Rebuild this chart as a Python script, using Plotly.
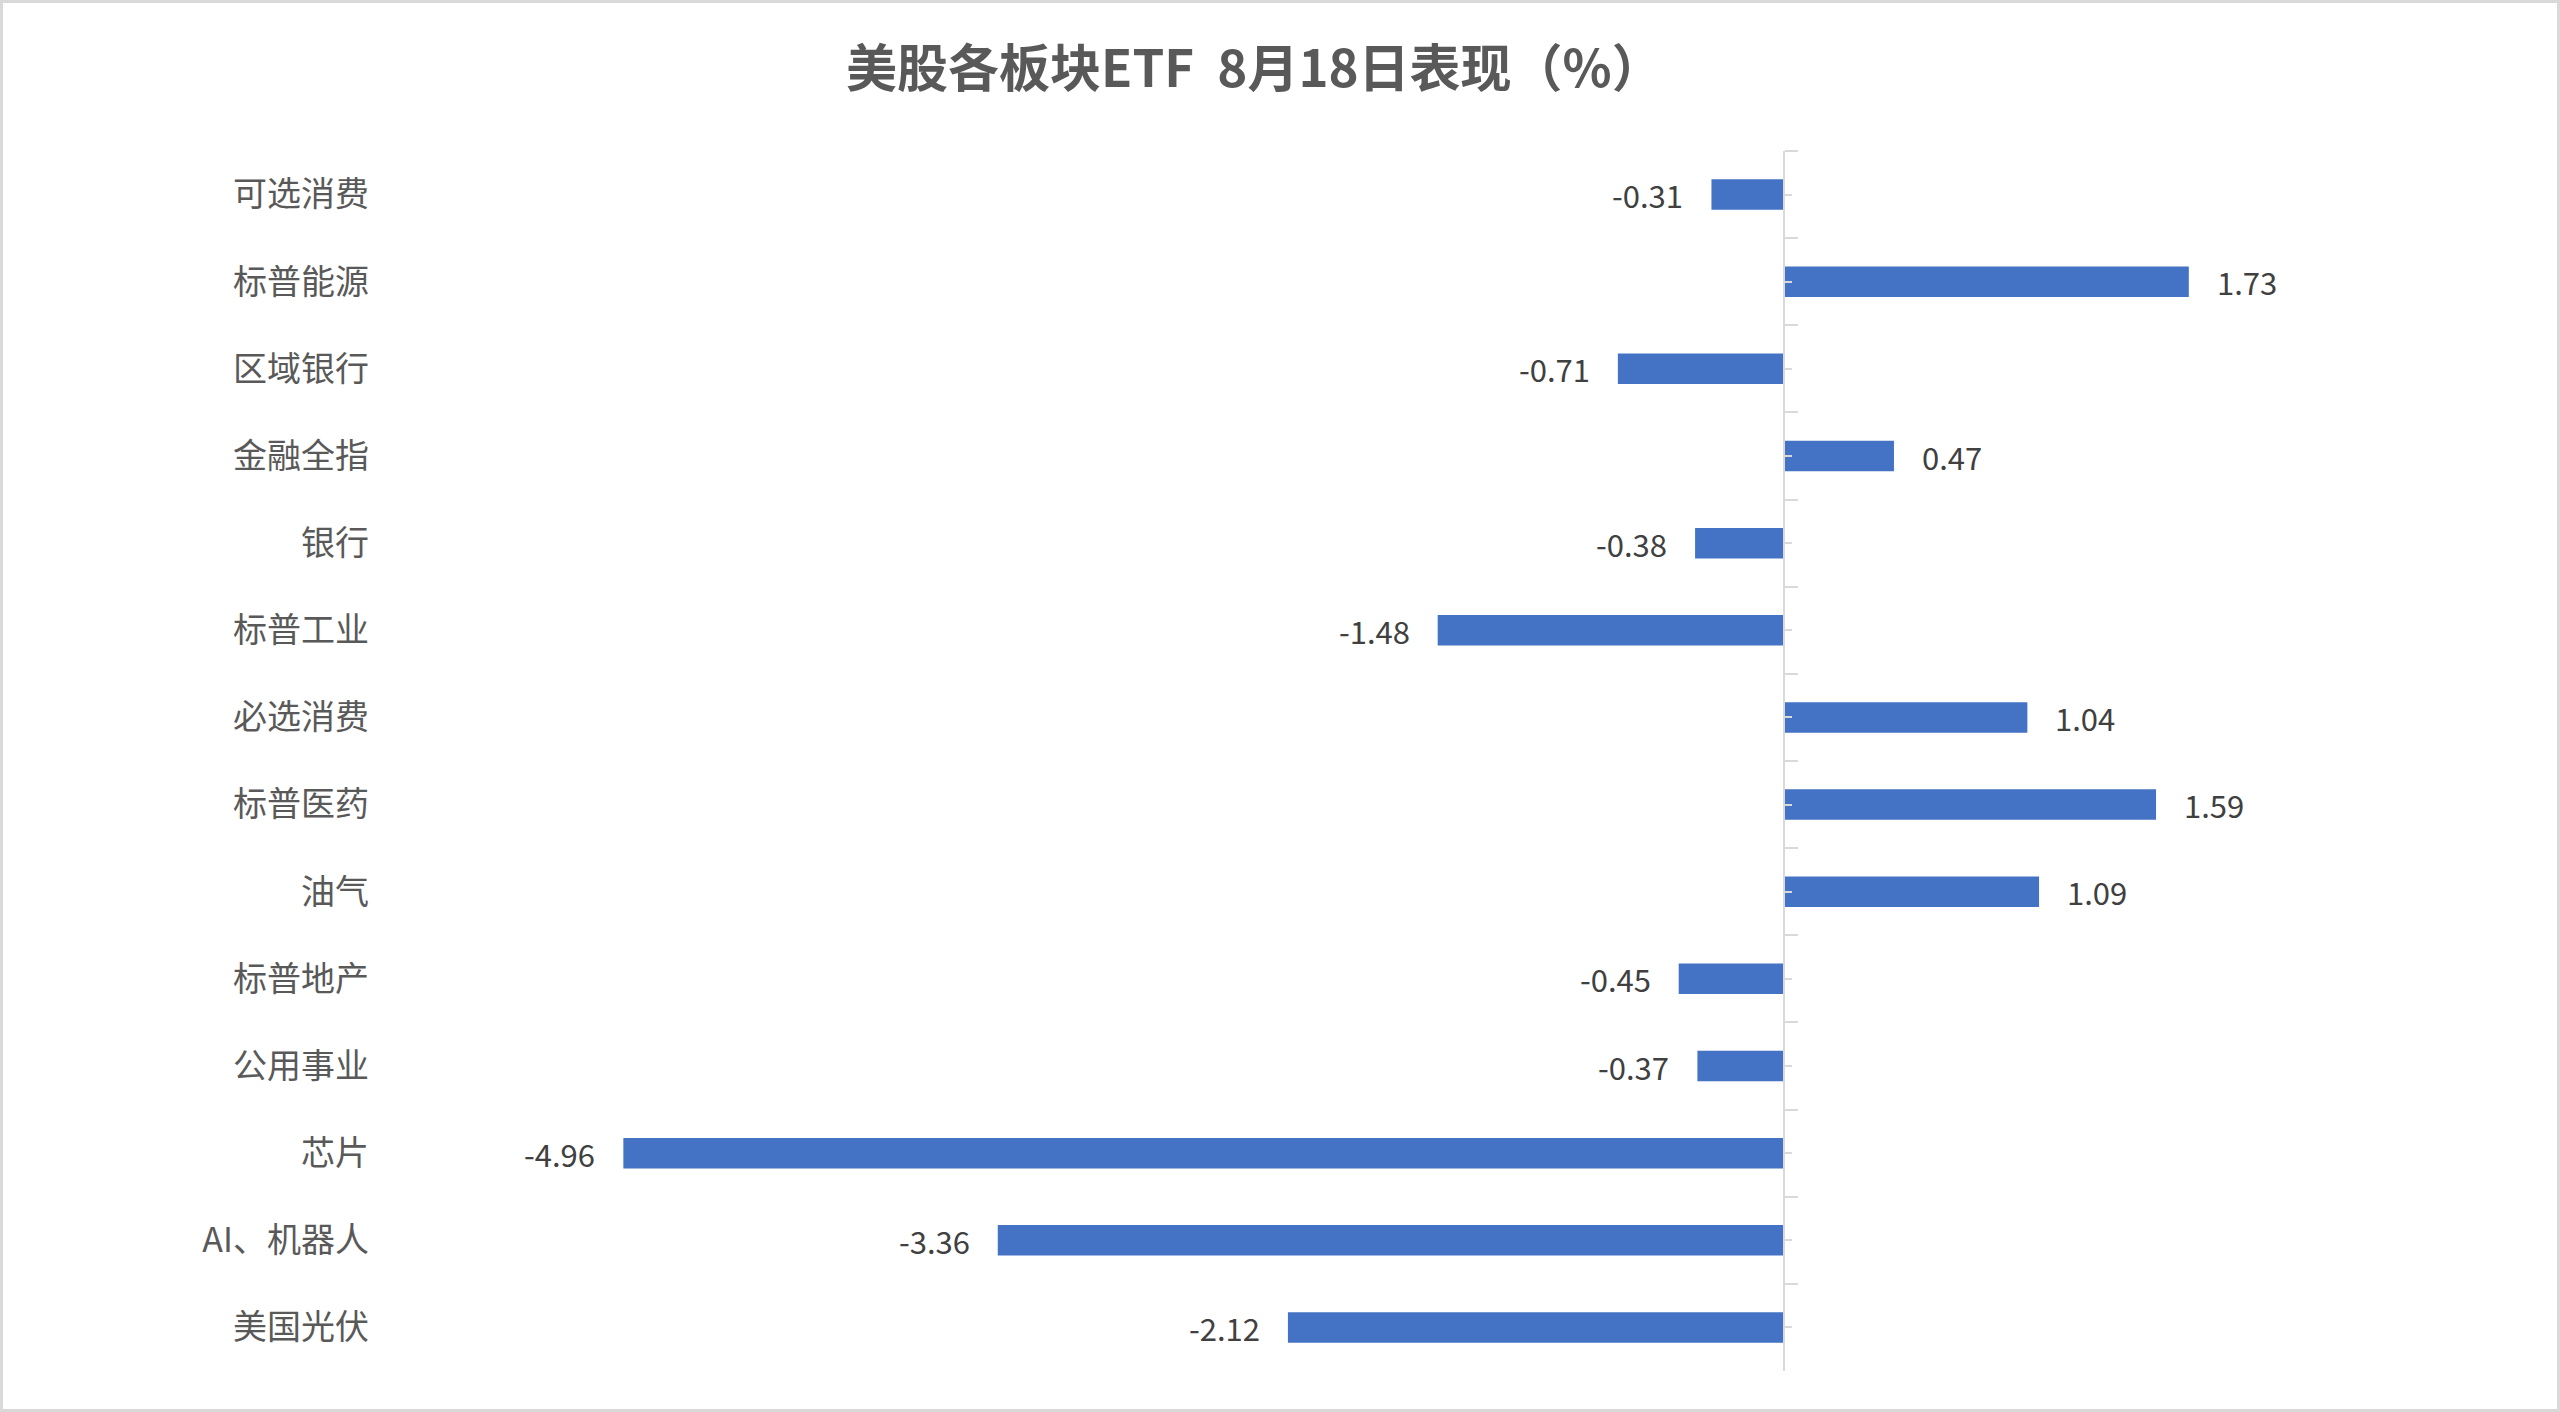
import plotly.graph_objects as go

# 美股各板块ETF 8月18日涨跌幅（%）
sectors = [
    "可选消费", "标普能源", "区域银行", "金融全指", "银行", "标普工业", "必选消费",
    "标普医药", "油气", "标普地产", "公用事业", "芯片", "AI、机器人", "美国光伏",
]
changes = [-0.31, 1.73, -0.71, 0.47, -0.38, -1.48, 1.04, 1.59, 1.09, -0.45, -0.37, -4.96, -3.36, -2.12]

W, H = 2560, 1412
M_L, M_R, M_T, M_B = 380, 191, 151, 41
X_RANGE = [-6, 2.5]
BAR_COLOR = "#4472C4"
AXIS_COLOR = "#D9D9D9"
FONT = "Noto Sans CJK SC, Noto Sans, sans-serif"

n = len(sectors)
y_range = [n - 0.5, -0.5]
zero_pos = (0 - X_RANGE[0]) / (X_RANGE[1] - X_RANGE[0])

fig = go.Figure()
fig.add_trace(go.Bar(
    x=changes, y=sectors, orientation="h",
    marker=dict(color=BAR_COLOR, line=dict(width=0)),
    width=0.35, hoverinfo="x+y",
))
# invisible copies so the overlay axes (category ticks at zero) know the categories
for ax in ("y2", "y3"):
    fig.add_trace(go.Scatter(
        x=[0] * n, y=sectors, yaxis=ax, mode="markers",
        marker=dict(opacity=0), hoverinfo="skip", showlegend=False,
    ))

# value labels, pushed off the bar ends
for s, v in zip(sectors, changes):
    fig.add_annotation(
        x=v, y=s, text=f"{v:.2f}", showarrow=False,
        xanchor="left" if v >= 0 else "right",
        xshift=26 if v >= 0 else -26,
        font=dict(family=FONT, size=31, color="#404040"),
    )

# chart-area border
pw = W - M_L - M_R
ph = H - M_T - M_B
fig.add_shape(
    type="rect", xref="paper", yref="paper",
    x0=-(M_L - 1.5) / pw, x1=1 + (M_R - 1.5) / pw,
    y0=-(M_B - 1.5) / ph, y1=1 + (M_T - 1.5) / ph,
    line=dict(color=AXIS_COLOR, width=3), layer="below",
)

axis_common = dict(
    type="category", categoryorder="array", categoryarray=sectors, range=y_range,
)
fig.update_layout(
    width=W, height=H,
    margin=dict(l=M_L, r=M_R, t=M_T, b=M_B),
    paper_bgcolor="white", plot_bgcolor="white",
    showlegend=False,
    title=dict(
        text="<b>美股各板块ETF\u00a0 8月18日表现（%）</b>",
        x=0.490, xref="container", xanchor="center",
        y=1 - 69 / H, yref="container", yanchor="middle",
        font=dict(family=FONT, size=51, color="#595959"),
    ),
    xaxis=dict(range=X_RANGE, visible=False, showgrid=False, zeroline=False),
    yaxis=dict(
        **axis_common,
        showline=False, ticks="", showgrid=False,
        tickfont=dict(family=FONT, size=34, color="#595959"),
        ticklabelstandoff=10,
    ),
    yaxis2=dict(
        **axis_common, overlaying="y", anchor="free", position=zero_pos, side="right",
        showline=True, linecolor=AXIS_COLOR, linewidth=2,
        ticks="outside", tickson="boundaries", ticklen=13, tickwidth=2, tickcolor=AXIS_COLOR,
        showticklabels=False, showgrid=False,
    ),
    yaxis3=dict(
        **axis_common, overlaying="y", anchor="free", position=zero_pos, side="right",
        showline=False,
        ticks="outside", ticklen=7, tickwidth=2, tickcolor=AXIS_COLOR,
        showticklabels=False, showgrid=False,
    ),
)

fig.write_html(
    "out.html",
    config={"displayModeBar": False},
    post_script="document.body.style.margin='0';",
)
